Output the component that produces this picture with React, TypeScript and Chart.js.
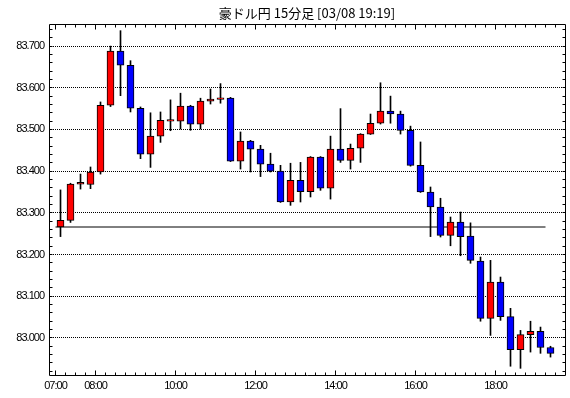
import React, { useEffect, useRef } from "react";
import { Chart, registerables } from "chart.js";

Chart.register(...registerables);

const chartTitle = "豪ドル円 15分足 [03/08 19:19]";
const startMinute = 420; // 07:00
const intervalMinutes = 15;

const opens = [
  83.266, 83.282, 83.369, 83.368, 83.398, 83.558, 83.688, 83.654, 83.551, 83.441,
  83.484, 83.520, 83.520, 83.556, 83.513, 83.568, 83.572, 83.575, 83.424, 83.472,
  83.453, 83.417, 83.400, 83.326, 83.378, 83.351, 83.434, 83.359, 83.453, 83.426,
  83.455, 83.489, 83.515, 83.544, 83.537, 83.498, 83.414, 83.350, 83.314, 83.246,
  83.278, 83.244, 83.184, 83.047, 83.134, 83.051, 82.972, 83.008, 83.016, 82.977,
];
const highs = [
  83.355, 83.371, 83.393, 83.410, 83.566, 83.700, 83.737, 83.665, 83.554, 83.540,
  83.542, 83.571, 83.587, 83.558, 83.575, 83.597, 83.610, 83.577, 83.494, 83.474,
  83.462, 83.443, 83.414, 83.419, 83.421, 83.435, 83.435, 83.484, 83.550, 83.465,
  83.490, 83.537, 83.612, 83.580, 83.544, 83.508, 83.470, 83.362, 83.335, 83.290,
  83.302, 83.276, 83.194, 83.186, 83.146, 83.071, 83.018, 83.040, 83.026, 82.980,
];
const lows = [
  83.243, 83.277, 83.357, 83.358, 83.393, 83.555, 83.581, 83.542, 83.430, 83.409,
  83.469, 83.497, 83.501, 83.498, 83.501, 83.561, 83.563, 83.423, 83.405, 83.398,
  83.387, 83.398, 83.325, 83.318, 83.326, 83.338, 83.354, 83.333, 83.421, 83.405,
  83.421, 83.488, 83.513, 83.515, 83.489, 83.412, 83.349, 83.243, 83.242, 83.221,
  83.197, 83.179, 83.040, 83.006, 83.042, 82.932, 82.927, 82.966, 82.963, 82.954,
];
const closes = [
  83.282, 83.369, 83.373, 83.398, 83.558, 83.688, 83.654, 83.551, 83.441, 83.484,
  83.522, 83.524, 83.556, 83.513, 83.568, 83.573, 83.576, 83.424, 83.472, 83.453,
  83.417, 83.400, 83.326, 83.378, 83.351, 83.434, 83.359, 83.453, 83.426, 83.455,
  83.489, 83.515, 83.544, 83.537, 83.498, 83.414, 83.350, 83.314, 83.246, 83.278,
  83.243, 83.186, 83.047, 83.134, 83.051, 82.972, 83.008, 83.016, 82.977, 82.963,
];

const openPrice = 83.266;
const openLineStart = 420; // 07:00
const openLineEnd = 1155; // 19:15

const yMin = 82.911;
const yMax = 83.753;
const yTickValues = [83.0, 83.1, 83.2, 83.3, 83.4, 83.5, 83.6, 83.7];
const xMin = 410.25;
const xMax = 1184.25;
const xTickMinutes = [420, 480, 600, 720, 840, 960, 1080];

const UP = "#ff0000";
const DOWN = "#0000ff";
const tickFont = {
  family: "'Liberation Sans', Arial, sans-serif",
  size: 11,
};

function fmtTime(m: number): string {
  const h = Math.floor(m / 60);
  const mm = m % 60;
  return String(h).padStart(2, "0") + ":" + String(mm).padStart(2, "0");
}

const frameTicks = {
  id: "frameTicks",
  beforeDraw(chart: any) {
    try {
      (chart.ctx as any).letterSpacing = "-1px";
    } catch (e) {}
  },
  afterDraw(chart: any) {
    const { ctx, chartArea, scales } = chart;
    const x = scales.x;
    const y = scales.y;
    const L = Math.floor(chartArea.left) + 0.5;
    const R = Math.floor(chartArea.right) + 0.5;
    const T = Math.floor(chartArea.top) + 0.5;
    const B = Math.floor(chartArea.bottom) + 0.5;
    ctx.save();
    ctx.strokeStyle = "#000";
    ctx.lineWidth = 1;
    ctx.setLineDash([]);
    ctx.beginPath();
    ctx.rect(L, T, R - L, B - T);
    // y minor ticks every 0.02
    for (let k = 8292; k <= 8374; k += 2) {
      const py = Math.floor(y.getPixelForValue(k / 100)) + 0.5;
      if (py < T || py > B) continue;
      ctx.moveTo(L, py);
      ctx.lineTo(L + 3, py);
      ctx.moveTo(R, py);
      ctx.lineTo(R - 3, py);
    }
    // x ticks every 15 minutes
    for (let m = startMinute; m <= xMax; m += intervalMinutes) {
      const px = Math.floor(x.getPixelForValue(m)) + 0.5;
      const len = xTickMinutes.includes(m) ? 5 : 3;
      ctx.moveTo(px, B);
      ctx.lineTo(px, B - len);
      ctx.moveTo(px, T);
      ctx.lineTo(px, T + len);
    }
    ctx.stroke();
    // title, centred over the plot area
    try {
      (ctx as any).letterSpacing = "0px";
    } catch (e) {}
    ctx.fillStyle = "#000";
    ctx.font = "normal 13px 'Noto Sans CJK JP', sans-serif";
    ctx.textAlign = "center";
    ctx.textBaseline = "middle";
    ctx.fillText(chartTitle, (chartArea.left + chartArea.right) / 2, 13);
    ctx.restore();
  },
};

export default function App() {
  const ref = useRef<HTMLCanvasElement | null>(null);

  useEffect(() => {
    if (!ref.current) return;
    const xs = opens.map((_, i) => startMinute + intervalMinutes / 2 + i * intervalMinutes);
    const bodies = opens.map((o, i) => ({ x: xs[i], y: [o, closes[i]] }));
    const wicks = opens.map((_, i) => ({ x: xs[i], y: [lows[i], highs[i]] }));
    const colors = opens.map((o, i) => (closes[i] >= o ? UP : DOWN));

    const chart = new Chart(ref.current, {
      type: "bar",
      data: {
        datasets: [
          {
            type: "bar",
            label: "body",
            data: bodies as any,
            backgroundColor: colors,
            borderColor: "#000",
            borderWidth: 1,
            borderSkipped: false,
            barThickness: 7,
            grouped: false,
            order: 0,
          } as any,
          {
            type: "bar",
            label: "wick",
            data: wicks as any,
            backgroundColor: "#000",
            borderWidth: 0,
            barThickness: 1,
            grouped: false,
            order: 1,
          } as any,
          {
            type: "line",
            label: "open",
            data: [
              { x: openLineStart, y: openPrice },
              { x: openLineEnd, y: openPrice },
            ],
            borderColor: "#000",
            borderWidth: 1,
            pointRadius: 0,
            order: 2,
          } as any,
        ],
      },
      options: {
        responsive: false,
        animation: false,
        layout: { padding: { left: 0, right: 5, top: 24, bottom: 0 } },
        plugins: {
          legend: { display: false },
          tooltip: { enabled: false },
          title: { display: false },
        },
        scales: {
          x: {
            type: "linear",
            offset: false,
            min: xMin,
            max: xMax,
            grid: { display: false, drawTicks: false, offset: false },
            border: { display: false },
            afterBuildTicks: (s: any) => {
              s.ticks = xTickMinutes.map((v) => ({ value: v }));
            },
            afterFit: (s: any) => {
              s.height = 23;
            },
            ticks: {
              callback: (v: any) => fmtTime(Number(v)),
              color: "#000",
              font: tickFont,
              padding: 4,
              maxRotation: 0,
              autoSkip: false,
            },
          },
          y: {
            type: "linear",
            min: yMin,
            max: yMax,
            grid: { display: true, drawTicks: false, color: "#000", lineWidth: 1 },
            border: { display: false, dash: [1, 1] },
            afterBuildTicks: (s: any) => {
              s.ticks = yTickValues.map((v) => ({ value: v }));
            },
            afterFit: (s: any) => {
              s.width = 49;
            },
            ticks: {
              callback: (v: any) => Number(v).toFixed(3),
              color: "#000",
              font: tickFont,
              padding: 5,
            },
          },
        },
      } as any,
      plugins: [frameTicks],
    });
    return () => chart.destroy();
  }, []);

  return (
    <div style={{ position: "fixed", left: 0, top: 0, width: 570, height: 398, background: "#fff" }}>
      <canvas ref={ref} width={570} height={398} style={{ display: "block" }} />
    </div>
  );
}
